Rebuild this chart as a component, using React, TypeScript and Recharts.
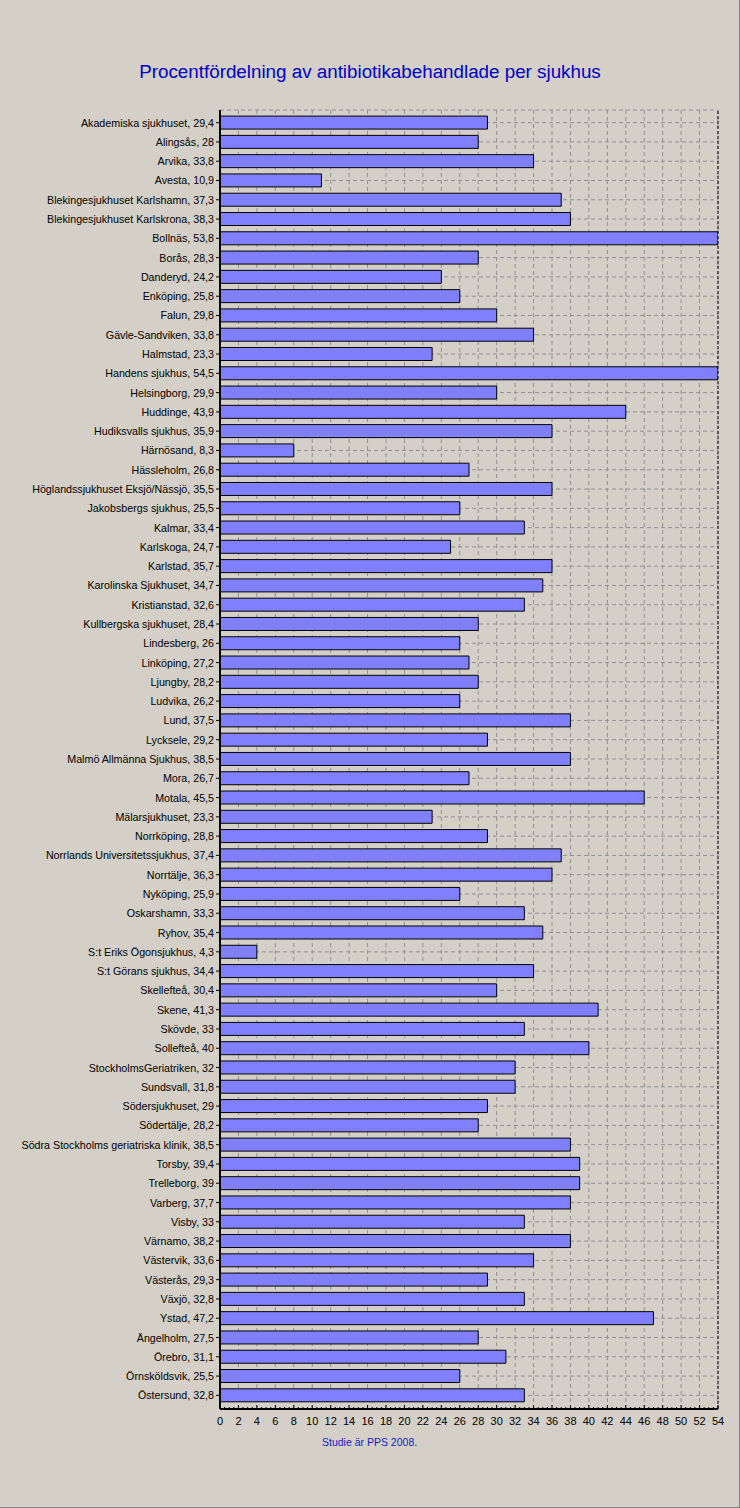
import React from 'react';
import {
  BarChart,
  Bar,
  XAxis,
  YAxis,
  CartesianGrid,
  ReferenceLine
} from 'recharts';

const hospitals = [
  'Akademiska sjukhuset', 'Alingsås', 'Arvika', 'Avesta', 'Blekingesjukhuset Karlshamn',
  'Blekingesjukhuset Karlskrona', 'Bollnäs', 'Borås', 'Danderyd', 'Enköping', 'Falun',
  'Gävle-Sandviken', 'Halmstad', 'Handens sjukhus', 'Helsingborg', 'Huddinge',
  'Hudiksvalls sjukhus', 'Härnösand', 'Hässleholm', 'Höglandssjukhuset Eksjö/Nässjö',
  'Jakobsbergs sjukhus', 'Kalmar', 'Karlskoga', 'Karlstad', 'Karolinska Sjukhuset',
  'Kristianstad', 'Kullbergska sjukhuset', 'Lindesberg', 'Linköping', 'Ljungby', 'Ludvika',
  'Lund', 'Lycksele', 'Malmö Allmänna Sjukhus', 'Mora', 'Motala', 'Mälarsjukhuset',
  'Norrköping', 'Norrlands Universitetssjukhus', 'Norrtälje', 'Nyköping', 'Oskarshamn',
  'Ryhov', 'S:t Eriks Ögonsjukhus', 'S:t Görans sjukhus', 'Skellefteå', 'Skene', 'Skövde',
  'Sollefteå', 'StockholmsGeriatriken', 'Sundsvall', 'Södersjukhuset', 'Södertälje',
  'Södra Stockholms geriatriska klinik', 'Torsby', 'Trelleborg', 'Varberg', 'Visby',
  'Värnamo', 'Västervik', 'Västerås', 'Växjö', 'Ystad', 'Ängelholm', 'Örebro',
  'Örnsköldsvik', 'Östersund'
];

const percents = [
  29.4, 28, 33.8, 10.9, 37.3, 38.3, 53.8, 28.3, 24.2, 25.8, 29.8, 33.8, 23.3, 54.5, 29.9,
  43.9, 35.9, 8.3, 26.8, 35.5, 25.5, 33.4, 24.7, 35.7, 34.7, 32.6, 28.4, 26, 27.2, 28.2,
  26.2, 37.5, 29.2, 38.5, 26.7, 45.5, 23.3, 28.8, 37.4, 36.3, 25.9, 33.3, 35.4, 4.3, 34.4,
  30.4, 41.3, 33, 40, 32, 31.8, 29, 28.2, 38.5, 39.4, 39, 37.7, 33, 38.2, 33.6, 29.3, 32.8,
  47.2, 27.5, 31.1, 25.5, 32.8
];

const X_MAX = 54;
const majorTicks = Array.from({ length: X_MAX / 2 + 1 }, (_, i) => i * 2);
const allTicks = Array.from({ length: X_MAX * 2 + 1 }, (_, i) => i / 2);

// the original program draws the bars at whole percent, halves rounded to even
const roundHalfEven = (v: number) => {
  const f = Math.floor(v);
  const d = v - f;
  if (Math.abs(d - 0.5) < 1e-9) return f % 2 === 0 ? f : f + 1;
  return Math.round(v);
};

const data = hospitals.map((name, i) => ({
  label: `${name}, ${String(percents[i]).replace('.', ',')}`,
  bar: Math.min(X_MAX, roundHalfEven(percents[i]))
}));

const FONT = '"Liberation Sans", Arial, sans-serif';

const BottomTick = (props: any) => {
  const { x, y, payload } = props;
  const major = payload.value % 2 === 0;
  return (
    <g>
      <line x1={x} x2={x} y1={y} y2={y - (major ? 4 : 2)} stroke="#000" />
      {major && (
        <text x={x} y={y + 16} textAnchor="middle" fontSize={11} fontFamily={FONT} fill="#000">
          {payload.value}
        </text>
      )}
    </g>
  );
};

const LeftTick = (props: any) => {
  const { x, y, payload } = props;
  return (
    <text x={x} y={y} dy={4} textAnchor="end" fontSize={10.7} fontFamily={FONT} fill="#000">
      {payload.value}
    </text>
  );
};

const App: React.FC = () => {
  return (
    <div
      style={{
        position: 'absolute',
        left: 0,
        top: 0,
        width: 740,
        height: 1508,
        background: '#D4D0C8',
        boxSizing: 'border-box',
        borderRight: '1px solid #808080',
        borderBottom: '1px solid #808080',
        fontFamily: FONT
      }}
    >
      <div
        style={{
          position: 'absolute',
          top: 61,
          left: 0,
          width: 740,
          textAlign: 'center',
          fontSize: 18.8,
          color: '#0000CC'
        }}
      >
        Procentfördelning av antibiotikabehandlade per sjukhus
      </div>
      <div style={{ position: 'absolute', top: 0, left: 0 }}>
        <BarChart
          width={740}
          height={1508}
          data={data}
          layout="vertical"
          barCategoryGap="16%"
          margin={{ top: 110, right: 22, bottom: 69, left: 0 }}
        >
          <CartesianGrid
            stroke="#909090"
            strokeDasharray="4 3"
            verticalValues={majorTicks}
          />
          <XAxis
            type="number"
            domain={[0, X_MAX]}
            ticks={allTicks}
            interval={0}
            allowDataOverflow
            height={30}
            tickSize={0}
            tickMargin={0}
            tickLine={false}
            axisLine={{ stroke: '#000', strokeWidth: 2 }}
            tick={<BottomTick />}
          />
          <XAxis
            xAxisId="top"
            orientation="top"
            type="number"
            domain={[0, X_MAX]}
            ticks={majorTicks}
            interval={0}
            height={0}
            mirror
            tick={false}
            tickSize={4}
            axisLine={{ stroke: '#000', strokeWidth: 1 }}
          />
          <YAxis
            type="category"
            dataKey="label"
            width={220}
            interval={0}
            padding={{ top: 3, bottom: 4 }}
            tickSize={4}
            tickMargin={2}
            tickLine={{ stroke: '#000' }}
            axisLine={{ stroke: '#000', strokeWidth: 2 }}
            tick={<LeftTick />}
          />
          <ReferenceLine x={X_MAX} stroke="#000" strokeDasharray="3 2" />
          <Bar
            dataKey="bar"
            fill="#8080FF"
            stroke="#000"
            strokeWidth={1}
            isAnimationActive={false}
          />
        </BarChart>
      </div>
      <div
        style={{
          position: 'absolute',
          top: 1436,
          left: 322,
          fontSize: 10.5,
          color: '#1a1acc'
        }}
      >
        Studie är PPS 2008.
      </div>
    </div>
  );
};

export default App;
